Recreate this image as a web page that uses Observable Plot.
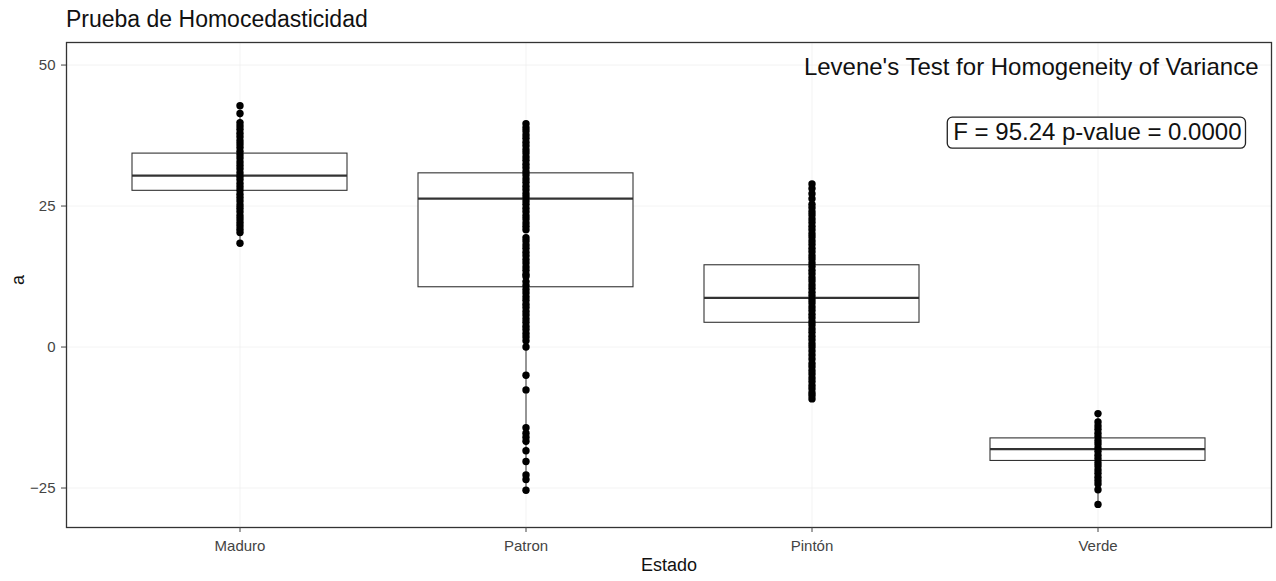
<!DOCTYPE html>
<html>
<head>
<meta charset="utf-8">
<script src="https://cdn.jsdelivr.net/npm/d3@7"></script>
<script src="https://cdn.jsdelivr.net/npm/@observablehq/plot@0.6"></script>
<style>
  body { margin: 0; background: #fff; font-family: "Liberation Sans", Arial, sans-serif; }
  #title { height: 40px; box-sizing: border-box; padding-left: 66px; padding-top: 6px;
           font-size: 23px; line-height: 26px; color: #111; }
  #chart svg { display: block; }
</style>
</head>
<body>
<div id="title">Prueba de Homocedasticidad</div>
<div id="chart"></div>
<script>
// ---- Data ----
const categories = ["Maduro", "Patron", "Pintón", "Verde"];
const q1 = [27.7, 10.6, 4.3, -20.2];
const median = [30.4, 26.3, 8.7, -18.1];
const q3 = [34.3, 30.8, 14.5, -16.2];
const whiskerLow = [18.4, -25.4, -9.2, -27.9];
const whiskerHigh = [42.8, 39.6, 28.9, -11.8];

const maduroPts = [42.8, 41.4, 39.8, 39.2, 38.6, 37.9, 37.3, 36.6, 36.0, 35.4, 34.7, 34.1, 33.5, 32.8,
  32.2, 31.6, 30.9, 30.3, 29.7, 29.0, 28.4, 27.8, 27.1, 26.5, 25.9, 25.2, 24.6, 24.0, 23.3, 22.7,
  22.1, 21.5, 20.9, 20.3, 18.4];
const patronPts = [39.6, 38.9, 38.3, 37.6, 37.0, 36.3, 35.7, 35.0, 34.4, 33.7, 33.1, 32.4, 31.8, 31.1,
  30.5, 29.8, 29.2, 28.5, 27.9, 27.2, 26.6, 25.9, 25.3, 24.6, 24.0, 23.3, 22.7, 22.0, 21.4, 20.8,
  19.4, 18.8, 18.1, 17.5, 16.8, 16.2, 15.5, 14.9, 14.2, 13.6, 12.9, 12.5,
  11.6, 10.9, 10.2, 9.6, 8.9, 8.3, 7.6, 7.0, 6.3, 5.7, 5.0, 4.4, 3.7, 3.1, 2.4, 1.8, 1.1, 0.0,
  -5.0, -7.6, -14.3, -15.3, -16.0, -16.7, -18.4, -20.3, -22.7, -23.5, -25.4];
const pintonPts = [28.9, 28.1, 27.2, 26.3, 25.3, 24.7, 24.0, 23.4, 22.7, 22.1, 21.4, 20.8, 20.1, 19.5,
  18.8, 18.2, 17.5, 16.9, 16.2, 15.6, 14.9, 14.3, 13.6, 13.0, 12.3, 11.7, 11.0, 10.4, 9.7, 9.1, 8.4,
  7.8, 7.1, 6.5, 5.8, 5.2, 4.5, 3.9, 3.2, 2.6, 1.9, 1.3, 0.6, 0.0, -0.7, -1.4, -2.1,
  -2.9, -3.5, -4.2, -4.8, -5.5, -6.1, -6.8, -7.4, -8.1, -8.6, -9.2];
const verdePts = [-11.8, -13.3, -14.0, -14.6, -15.3, -15.9, -16.6, -17.2, -17.9, -18.5, -19.2, -19.8,
  -20.5, -21.1, -21.8, -22.4, -23.1, -23.7, -24.3, -25.3, -27.9];

const yTicks = [-25, 0, 25, 50];
const xLabel = "Estado";
const yLabel = "a";
const testTitle = "Levene's Test for Homogeneity of Variance";
const testResult = "F = 95.24 p-value = 0.0000";

// ---- Build tables ----
const stats = categories.map((c, i) => ({cat: c, q1: q1[i], med: median[i], q3: q3[i], lo: whiskerLow[i], hi: whiskerHigh[i]}));
const pointSets = [maduroPts, patronPts, pintonPts, verdePts];
const points = pointSets.flatMap((arr, i) => arr.map(v => ({cat: categories[i], a: v})));

const font = "Liberation Sans, Arial, sans-serif";

const chart = Plot.plot({
  width: 1276,
  height: 541,
  marginTop: 2,
  marginBottom: 54,
  marginLeft: 66,
  marginRight: 5,
  style: {fontFamily: font, background: "#fff"},
  x: {type: "band", domain: categories, paddingInner: 0.25, paddingOuter: 0.225, align: 0.5, label: null},
  y: {domain: [-32, 54], label: null},
  marks: [
    Plot.gridY(yTicks, {stroke: "#ebebeb", strokeOpacity: 0.6}),
    Plot.gridX(categories, {stroke: "#ebebeb", strokeOpacity: 0.6}),
    Plot.ruleX(stats, {x: "cat", y1: "lo", y2: "q1", stroke: "#333", strokeWidth: 1}),
    Plot.ruleX(stats, {x: "cat", y1: "q3", y2: "hi", stroke: "#333", strokeWidth: 1}),
    Plot.barY(stats, {x: "cat", y1: "q1", y2: "q3", fill: "white", stroke: "#333", strokeWidth: 1.1}),
    Plot.tickY(stats, {x: "cat", y: "med", stroke: "#333", strokeWidth: 2.2}),
    Plot.dot(points, {x: "cat", y: "a", r: 3.7, fill: "black", stroke: "none"}),
    Plot.frame({stroke: "#333", strokeWidth: 1.3}),
    Plot.axisY({ticks: yTicks, tickSize: 5, tickPadding: 6, fontSize: 15, color: "#444", label: null}),
    Plot.axisX({tickSize: 5, tickPadding: 8, fontSize: 15, color: "#444", label: null}),
    Plot.text([xLabel], {frameAnchor: "bottom", dy: 38, fontSize: 18, fill: "#111", lineAnchor: "middle"}),
    Plot.text([yLabel], {frameAnchor: "left", dx: -48, rotate: -90, fontSize: 18, fill: "#111", lineAnchor: "middle"}),
    Plot.text([testTitle], {frameAnchor: "top-right", dx: -13, dy: 25, fontSize: 24, fill: "#111", textAnchor: "end", lineAnchor: "middle"}),
    Plot.text([testResult], {frameAnchor: "top-right", dx: -30, dy: 90, fontSize: 24, fill: "#111", textAnchor: "end", lineAnchor: "middle"})
  ]
});
document.getElementById("chart").appendChild(chart);

// rounded label box around the test result
const resultText = Array.from(chart.querySelectorAll("text")).find(t => t.textContent === testResult);
if (resultText) {
  const bb = resultText.getBBox();
  const g = resultText.parentNode;
  const rect = document.createElementNS("http://www.w3.org/2000/svg", "rect");
  rect.setAttribute("x", bb.x - 6);
  rect.setAttribute("y", bb.y - 1);
  rect.setAttribute("width", bb.width + 10);
  rect.setAttribute("height", bb.height + 4);
  rect.setAttribute("rx", 5);
  rect.setAttribute("fill", "white");
  rect.setAttribute("stroke", "#222");
  rect.setAttribute("stroke-width", 1.3);
  if (resultText.getAttribute("transform")) rect.setAttribute("transform", resultText.getAttribute("transform"));
  g.insertBefore(rect, resultText);
}
</script>
</body>
</html>
